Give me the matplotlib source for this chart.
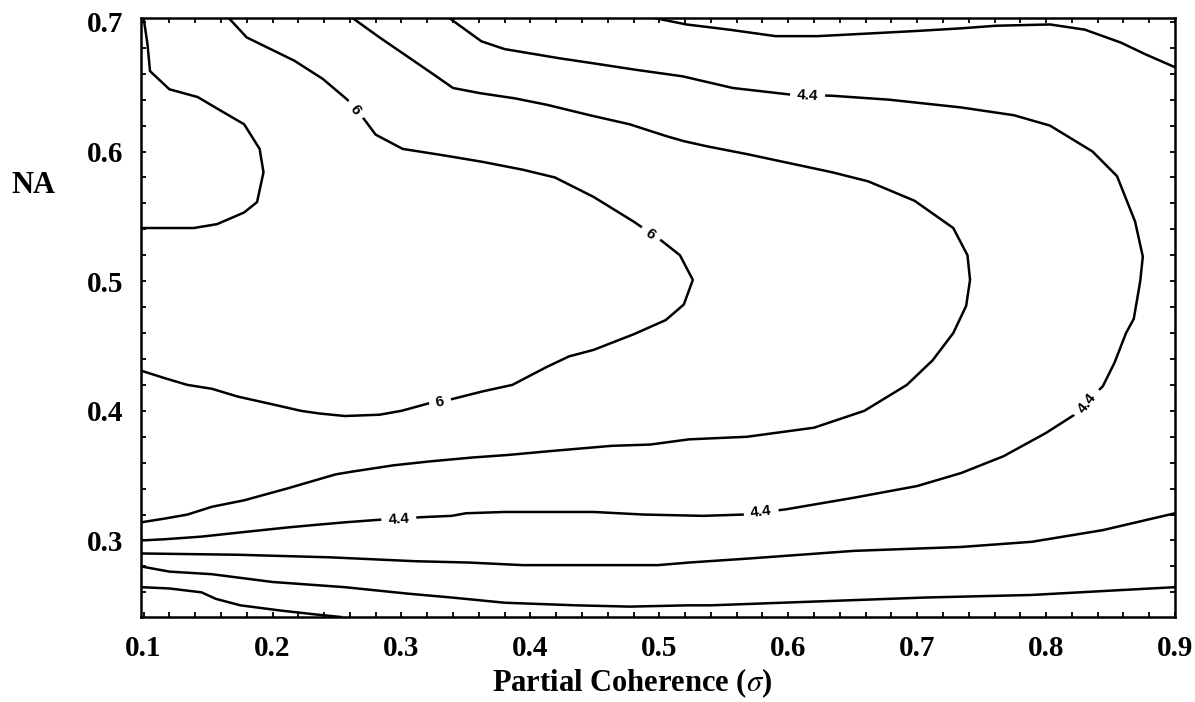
import matplotlib
matplotlib.use("Agg")
import matplotlib.pyplot as plt
from matplotlib.ticker import MultipleLocator

plt.rcParams['font.family'] = ['Liberation Serif', 'DejaVu Serif']
plt.rcParams['mathtext.fontset'] = 'stix'

# contour lines: sigma on x, NA on y
c1_x = [0.100, 0.103, 0.105, 0.120, 0.142, 0.159, 0.178, 0.190, 0.193, 0.188, 0.178, 0.157, 0.139, 0.120, 0.098]
c1_y = [0.703, 0.683, 0.662, 0.648, 0.642, 0.632, 0.621, 0.602, 0.584, 0.561, 0.553, 0.544, 0.541, 0.541, 0.541]

c2_x = [0.166, 0.180, 0.217, 0.239, 0.258, 0.271, 0.280, 0.301, 0.333, 0.363, 0.394, 0.419, 0.449,
        0.480, 0.502, 0.516, 0.526, 0.519, 0.505, 0.480, 0.449, 0.430, 0.413, 0.386, 0.363, 0.339,
        0.322, 0.300, 0.283, 0.256, 0.236, 0.222, 0.200, 0.173, 0.153, 0.134, 0.117, 0.098]
c2_y = [0.703, 0.688, 0.670, 0.656, 0.640, 0.625, 0.613, 0.602, 0.597, 0.592, 0.586, 0.580, 0.565,
        0.546, 0.531, 0.520, 0.501, 0.482, 0.470, 0.459, 0.447, 0.442, 0.434, 0.420, 0.415, 0.409,
        0.406, 0.400, 0.397, 0.396, 0.398, 0.400, 0.405, 0.411, 0.417, 0.420, 0.425, 0.431]

c3_x = [0.262, 0.283, 0.308, 0.327, 0.340, 0.361, 0.388, 0.413, 0.446, 0.477, 0.505, 0.519, 0.537,
        0.568, 0.601, 0.634, 0.662, 0.698, 0.728, 0.739, 0.741, 0.738, 0.728, 0.712, 0.692, 0.659,
        0.620, 0.568, 0.523, 0.493, 0.463, 0.416, 0.383, 0.355, 0.322, 0.294, 0.261, 0.249, 0.211,
        0.178, 0.153, 0.134, 0.117, 0.098]
c3_y = [0.703, 0.688, 0.671, 0.658, 0.649, 0.645, 0.641, 0.636, 0.628, 0.621, 0.612, 0.608, 0.604,
        0.598, 0.591, 0.584, 0.577, 0.562, 0.541, 0.520, 0.501, 0.481, 0.460, 0.439, 0.420, 0.400,
        0.387, 0.380, 0.378, 0.374, 0.373, 0.369, 0.366, 0.364, 0.361, 0.358, 0.353, 0.351, 0.340,
        0.331, 0.326, 0.320, 0.317, 0.314]

c4_x = [0.337, 0.362, 0.380, 0.422, 0.449, 0.482, 0.518, 0.557, 0.601, 0.634, 0.678, 0.734, 0.775,
        0.803, 0.836, 0.855, 0.869, 0.875, 0.873, 0.868, 0.862, 0.853, 0.844, 0.822, 0.800, 0.767,
        0.734, 0.700, 0.651, 0.598, 0.565, 0.534, 0.488, 0.449, 0.422, 0.380, 0.350, 0.339, 0.316,
        0.283, 0.256, 0.233, 0.211, 0.173, 0.145, 0.117, 0.098]
c4_y = [0.703, 0.685, 0.679, 0.672, 0.668, 0.663, 0.658, 0.649, 0.644, 0.643, 0.640, 0.634, 0.628,
        0.620, 0.600, 0.581, 0.546, 0.519, 0.500, 0.471, 0.460, 0.437, 0.419, 0.397, 0.383, 0.365,
        0.352, 0.342, 0.333, 0.324, 0.320, 0.319, 0.320, 0.322, 0.322, 0.322, 0.321, 0.319, 0.318,
        0.316, 0.314, 0.312, 0.310, 0.306, 0.303, 0.301, 0.300]

c5_x = [0.496, 0.521, 0.554, 0.590, 0.623, 0.662, 0.700, 0.734, 0.761, 0.803, 0.830, 0.858, 0.877, 0.900]
c5_y = [0.703, 0.698, 0.694, 0.689, 0.689, 0.691, 0.693, 0.695, 0.697, 0.698, 0.694, 0.684, 0.675, 0.665]

c6_x = [0.098, 0.173, 0.245, 0.311, 0.352, 0.394, 0.449, 0.499, 0.523, 0.568, 0.651, 0.734, 0.789, 0.844, 0.900]
c6_y = [0.290, 0.289, 0.287, 0.284, 0.283, 0.281, 0.281, 0.281, 0.283, 0.286, 0.292, 0.295, 0.299, 0.308, 0.321]

c7_x = [0.098, 0.120, 0.153, 0.200, 0.256, 0.305, 0.339, 0.380, 0.435, 0.477, 0.523, 0.540, 0.623,
        0.706, 0.789, 0.844, 0.900]
c7_y = [0.280, 0.276, 0.274, 0.268, 0.264, 0.259, 0.256, 0.252, 0.250, 0.249, 0.250, 0.250, 0.253,
        0.256, 0.258, 0.261, 0.264]

c8_x = [0.098, 0.120, 0.145, 0.156, 0.175, 0.206, 0.233, 0.253]
c8_y = [0.264, 0.263, 0.260, 0.255, 0.250, 0.246, 0.243, 0.241]

lines_x = [c1_x, c2_x, c3_x, c4_x, c5_x, c6_x, c7_x, c8_x]
lines_y = [c1_y, c2_y, c3_y, c4_y, c5_y, c6_y, c7_y, c8_y]

# inline contour labels
lab_text = ['6', '6', '6', '4.4', '4.4', '4.4', '4.4']
lab_x = [0.264, 0.493, 0.330, 0.615, 0.832, 0.579, 0.298]
lab_y = [0.632, 0.536, 0.407, 0.643, 0.406, 0.322, 0.316]
lab_rot = [-52, -36, 13, -3, 52, 7, 4]

fig = plt.figure(figsize=(11.95, 7.02), dpi=100)
ax = fig.add_axes([0.118, 0.1211, 0.8653, 0.8533])

for xs, ys in zip(lines_x, lines_y):
    ax.plot(xs, ys, color='black', lw=1.8, solid_joinstyle='round', zorder=2)

for t, x, y, r in zip(lab_text, lab_x, lab_y, lab_rot):
    ax.text(x, y, t, rotation=r, ha='center', va='center', fontsize=11,
            fontweight='bold', family=['Liberation Sans', 'DejaVu Sans'], zorder=3,
            bbox=dict(boxstyle='square,pad=0.45', fc='white', ec='none'))

ax.set_xlim(0.098, 0.9)
ax.set_ylim(0.241, 0.703)
ax.xaxis.set_major_locator(MultipleLocator(0.1))
ax.xaxis.set_minor_locator(MultipleLocator(0.02))
ax.yaxis.set_major_locator(MultipleLocator(0.1))
ax.yaxis.set_minor_locator(MultipleLocator(0.02))
ax.tick_params(which='both', direction='in', top=True, right=True, length=3.5, width=1.3)
ax.tick_params(which='major', pad=13)
for lab in ax.get_xticklabels() + ax.get_yticklabels():
    lab.set_fontsize(21)
    lab.set_fontweight('bold')
for sp in ax.spines.values():
    sp.set_linewidth(1.8)

ax.set_xlabel('Partial Coherence ($\\sigma$)', fontsize=22, fontweight='bold', va='center')
ax.xaxis.set_label_coords(0.475, -0.11)
ax.set_ylabel('NA', fontsize=22, fontweight='bold', rotation=0, ha='center', va='center')
ax.yaxis.set_label_coords(-0.104, 0.72)

fig.savefig('out.png', dpi=100)
